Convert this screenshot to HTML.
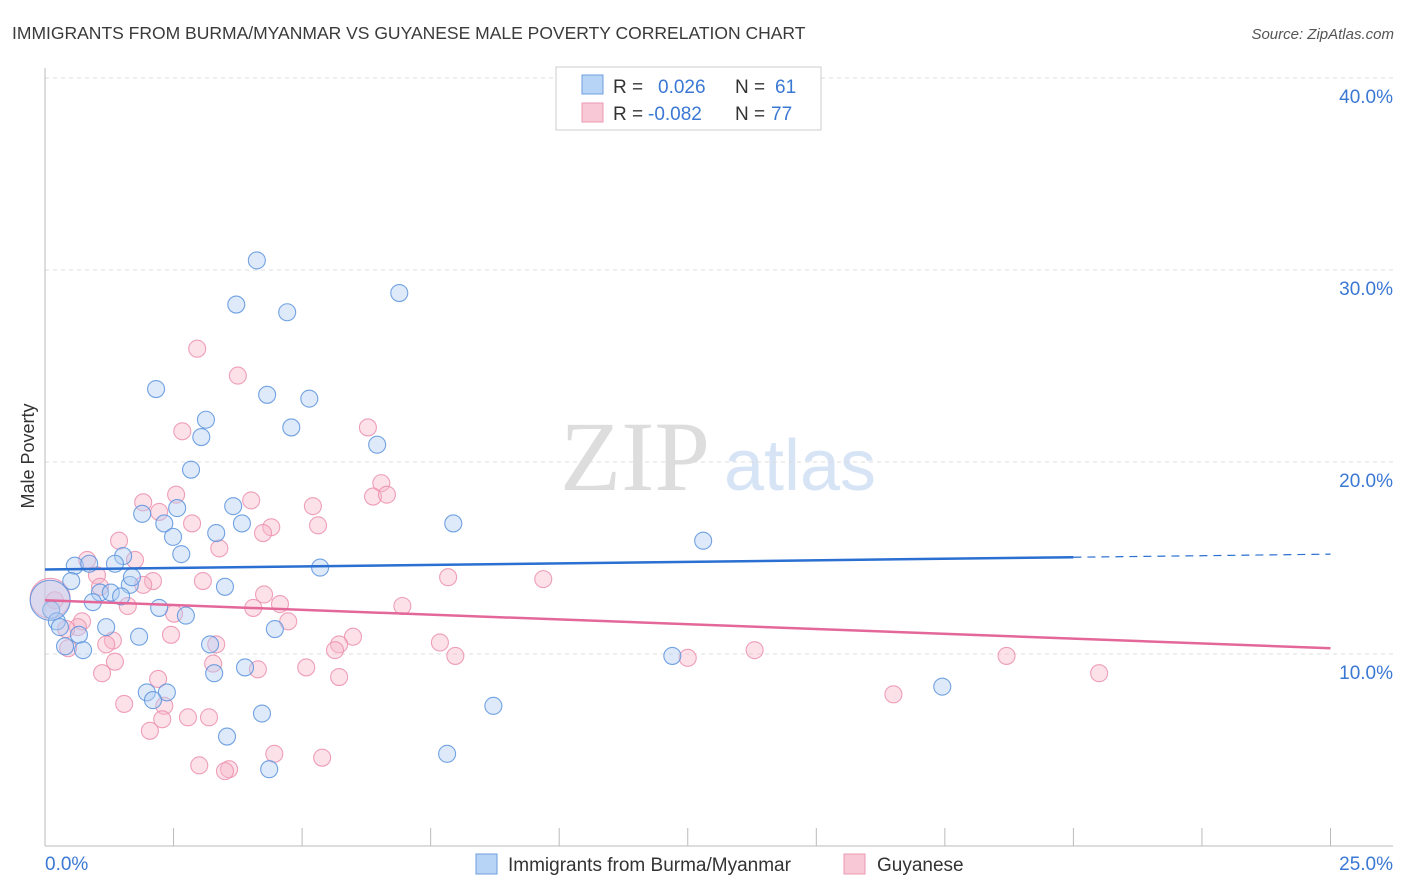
<!DOCTYPE html>
<html><head><meta charset="utf-8"><style>
body{margin:0;background:#fff;font-family:"Liberation Sans",sans-serif;}
#wrap{position:relative;width:1406px;height:892px;overflow:hidden;}
</style></head><body>
<div id="wrap">
<svg id="svg" width="1406" height="892">
<text x="12" y="39" font-size="17.5" fill="#3a3a3a">IMMIGRANTS FROM BURMA/MYANMAR VS GUYANESE MALE POVERTY CORRELATION CHART</text>
<text x="1394" y="39" font-size="15" fill="#555" font-style="italic" text-anchor="end">Source: ZipAtlas.com</text>
<text x="34" y="456" font-size="18" fill="#333" text-anchor="middle" transform="rotate(-90 34 456)">Male Poverty</text>
<text x="635" y="490" font-size="100" fill="#ddd" font-family="Liberation Serif,serif" text-anchor="middle">ZIP</text>
<text x="800" y="490" font-size="72" fill="#d6e4f5" text-anchor="middle">atlas</text>
<g id="grid"></g><g id="marks"></g>
<g>
<rect x="556" y="67" width="265" height="63" fill="#fff" stroke="#ccc"/>
<rect x="582" y="75" width="21" height="19" fill="#b7d3f5" stroke="#6d9fe0"/>
<rect x="582" y="103" width="21" height="19" fill="#f9c8d6" stroke="#ec98b3"/>
<text x="613" y="93" font-size="19" fill="#333">R =</text><text x="658" y="93" font-size="19" fill="#3a78d4">0.026</text>
<text x="735" y="93" font-size="19" fill="#333">N =</text><text x="775" y="93" font-size="19" fill="#3a78d4">61</text>
<text x="613" y="120" font-size="19" fill="#333">R =</text><text x="648" y="120" font-size="19" fill="#3a78d4">-0.082</text>
<text x="735" y="120" font-size="19" fill="#333">N =</text><text x="771" y="120" font-size="19" fill="#3a78d4">77</text>
</g>
<g>
<rect x="476" y="854" width="21" height="20" fill="#b7d3f5" stroke="#6d9fe0"/>
<text x="508" y="871" font-size="19" fill="#333">Immigrants from Burma/Myanmar</text>
<rect x="844" y="854" width="21" height="20" fill="#f9c8d6" stroke="#ec98b3"/>
<text x="877" y="871" font-size="19" fill="#333">Guyanese</text>
</g>
</svg>
</div>
<script>
const yTicks=[10,20,30,40];
const yTickLabels=["10.0%","20.0%","30.0%","40.0%"];
const xTicks=[0,2.5,5,7.5,10,12.5,15,17.5,20,22.5,25];
const blueX=[4.12,3.72,4.71,6.89,2.16,4.32,5.14,3.13,3.04,4.79,6.46,2.84,3.66,2.57,1.89,2.32,3.83,3.33,7.94,2.49,2.65,1.52,12.8,0.58,1.36,0.86,5.35,0.51,1.65,1.69,3.5,1.07,1.28,1.48,0.93,2.22,0.12,4.47,1.19,0.66,1.83,0.23,0.29,0.39,0.74,2.74,3.21,3.29,3.89,12.2,17.45,1.98,2.37,2.1,8.72,4.22,3.54,7.82,4.36,0.1];
const blueY=[30.5,28.2,27.8,28.8,23.8,23.5,23.3,22.2,21.3,21.8,20.9,19.6,17.7,17.6,17.3,16.8,16.8,16.3,16.8,16.1,15.2,15.1,15.9,14.6,14.7,14.7,14.5,13.8,13.6,14.0,13.5,13.2,13.2,13.0,12.7,12.4,12.3,11.3,11.4,11.0,10.9,11.7,11.4,10.4,10.2,12.0,10.5,9.0,9.3,9.9,8.3,8.0,8.0,7.6,7.3,6.9,5.7,4.8,4.0,12.8];
const pinkX=[2.96,3.75,2.67,6.28,6.54,6.38,6.65,2.55,1.91,4.01,2.22,5.21,2.86,4.4,4.24,5.31,3.39,1.44,1.75,0.82,1.01,2.1,1.91,3.07,4.26,7.84,9.69,1.07,0.19,1.61,4.57,4.05,2.51,6.95,4.73,0.72,0.64,0.41,5.99,2.45,7.68,1.32,1.19,3.33,0.45,5.72,5.64,7.98,13.8,18.7,12.5,1.36,3.27,5.08,4.14,1.11,2.2,20.5,5.72,16.5,2.32,1.54,2.78,3.19,2.28,2.04,4.46,5.39,3.0,3.58,3.5,0.1];
const pinkY=[25.9,24.5,21.6,21.8,18.9,18.2,18.3,18.3,17.9,18.0,17.4,17.7,16.8,16.6,16.3,16.7,15.5,15.9,14.9,14.9,14.1,13.8,13.6,13.8,13.1,14.0,13.9,13.5,12.8,12.5,12.6,12.4,12.1,12.5,11.7,11.7,11.4,11.3,10.9,11.0,10.6,10.7,10.5,10.5,10.3,10.5,10.2,9.9,10.2,9.9,9.8,9.6,9.5,9.3,9.2,9.0,8.7,9.0,8.8,7.9,7.3,7.4,6.7,6.7,6.6,6.0,4.8,4.6,4.2,4.0,3.9,12.9];
const blueTrend=[14.4,15.2];
const pinkTrend=[12.8,10.3];
const NS="http://www.w3.org/2000/svg";
const sx=v=>45+v*51.42;
const sy=v=>846-v*19.2;
const grid=document.getElementById('grid'),marks=document.getElementById('marks');
function mk(tag,at,parent){const e=document.createElementNS(NS,tag);for(const k in at)e.setAttribute(k,at[k]);parent.appendChild(e);return e;}
yTicks.forEach((t,i)=>{
 const l=mk('line',{x1:45,x2:1393,y1:sy(t),y2:sy(t),stroke:'#ddd','stroke-dasharray':'4,4'},grid);
 
 
 const tx=mk('text',{x:1393,y:sy(t)+25,'font-size':19,fill:'#3a78d4','text-anchor':'end'},grid);tx.textContent=yTickLabels[i];
 
 
});
let ax=mk('line',{x1:45,x2:1393,y1:846,y2:846,stroke:'#bbb'},grid);


let ay=mk('line',{x1:45,x2:45,y1:68,y2:846,stroke:'#bbb'},grid);


xTicks.forEach(t=>{const l=mk('line',{x1:sx(t),x2:sx(t),y1:828,y2:846,stroke:'#bbb'},grid);
 
 });
let t0=mk('text',{x:45,y:870,'font-size':19,fill:'#3a78d4'},grid);t0.textContent="0.0%";


let t1=mk('text',{x:1393,y:870,'font-size':19,fill:'#3a78d4','text-anchor':'end'},grid);t1.textContent="25.0%";


function pts(X,Y,fill,stroke,name){X.forEach((x,i)=>{const big=i===X.length-1;
 const c=mk('circle',{cx:sx(x),cy:sy(Y[i]),r:big?20:8.5,fill:fill,'fill-opacity':0.42,stroke:stroke,'stroke-opacity':0.85,'stroke-width':1.1},marks);
 
 });}
pts(pinkX,pinkY,'#f7b8cb','#ec8fae','guyanese-point');
pts(blueX,blueY,'#b0cef3','#5a93dd','burma-point');
const bx=20;
let b1=mk('line',{x1:sx(0),y1:sy(blueTrend[0]),x2:sx(bx),y2:sy(blueTrend[0]+(blueTrend[1]-blueTrend[0])*bx/25),stroke:'#2a6fd1','stroke-width':2.5},marks);


let b2=mk('line',{x1:sx(bx),y1:sy(blueTrend[0]+(blueTrend[1]-blueTrend[0])*bx/25),x2:sx(25),y2:sy(blueTrend[1]),stroke:'#2a6fd1','stroke-width':1.2,'stroke-dasharray':'8,6'},marks);


let p1=mk('line',{x1:sx(0),y1:sy(pinkTrend[0]),x2:sx(25),y2:sy(pinkTrend[1]),stroke:'#e4679a','stroke-width':2.5},marks);


</script>
</body></html>
